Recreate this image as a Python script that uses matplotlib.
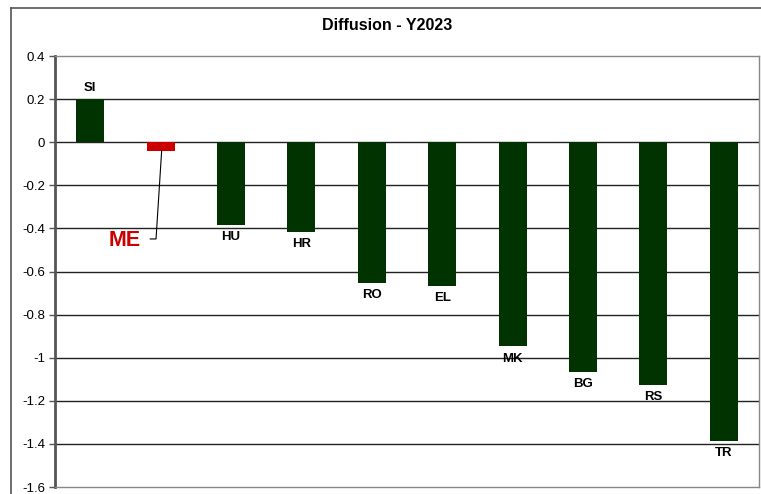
import matplotlib.pyplot as plt
from matplotlib.lines import Line2D
import numpy as np

plt.rcParams["font.family"] = ["Liberation Sans", "DejaVu Sans"]

countries = ["SI", "ME", "HU", "HR", "RO", "EL", "MK", "BG", "RS", "TR"]
diffusion = [0.20, -0.04, -0.385, -0.417, -0.653, -0.667, -0.948, -1.065, -1.127, -1.386]
highlight = "ME"
yticks = [0.4, 0.2, 0, -0.2, -0.4, -0.6, -0.8, -1, -1.2, -1.4, -1.6]

W, H = 761, 494
fig = plt.figure(figsize=(W / 100, H / 100), dpi=100)
ax = fig.add_axes([55 / W, 1 - 487 / H, (759 - 55) / W, (487 - 56) / H])

x = np.arange(len(countries))
colors = ["#cc0000" if c == highlight else "#003300" for c in countries]
ax.bar(x, diffusion, width=0.4, color=colors, zorder=3)

ax.set_xlim(-0.5, len(countries) - 0.5)
ax.set_ylim(-1.6, 0.4)
ax.set_yticks(yticks)
ax.set_yticklabels([f"{t:g}" for t in yticks], fontsize=9.5)
ax.set_xticks([])
ax.tick_params(axis="y", length=4, width=1, color="#555555", pad=3)

for t in yticks[1:-1]:
    ax.axhline(t, color="#222222", lw=1, zorder=1)

for side in ["top", "right", "bottom"]:
    ax.spines[side].set_color("#888888")
    ax.spines[side].set_linewidth(1)
ax.spines["left"].set_color("#555555")
ax.spines["left"].set_linewidth(2)

# country codes at the bar ends
for xi, c, v in zip(x, countries, diffusion):
    if c == highlight:
        continue
    if v >= 0:
        ax.annotate(c, (xi, v), xytext=(0, 4), textcoords="offset points",
                    ha="center", va="bottom", fontsize=9.5, fontweight="bold")
    else:
        ax.annotate(c, (xi, v), xytext=(0, -4.5), textcoords="offset points",
                    ha="center", va="top", fontsize=9.5, fontweight="bold")

# callout for the highlighted country
hi = countries.index(highlight)
lead_x = [hi + 0.015, hi - 0.065, hi - 0.147]
lead_y = [diffusion[hi], -0.449, -0.449]
ax.plot(lead_x, lead_y, color="black", lw=0.8, zorder=4)
ax.text(hi - 0.505, -0.457, highlight, ha="center", va="center", fontsize=15.5,
        fontweight="bold", color="#cc0000")

fig.text(387 / W, 1 - 25 / H, "Diffusion - Y2023", ha="center", va="center",
         fontsize=11.5, fontweight="bold")

# outer chart frame
fig.add_artist(Line2D([11 / W, 1], [1 - 8 / H, 1 - 8 / H], color="#555555", lw=1.2))
fig.add_artist(Line2D([11 / W, 11 / W], [0, 1 - 8 / H], color="#555555", lw=1.2))

fig.savefig("out.png", dpi=100)
